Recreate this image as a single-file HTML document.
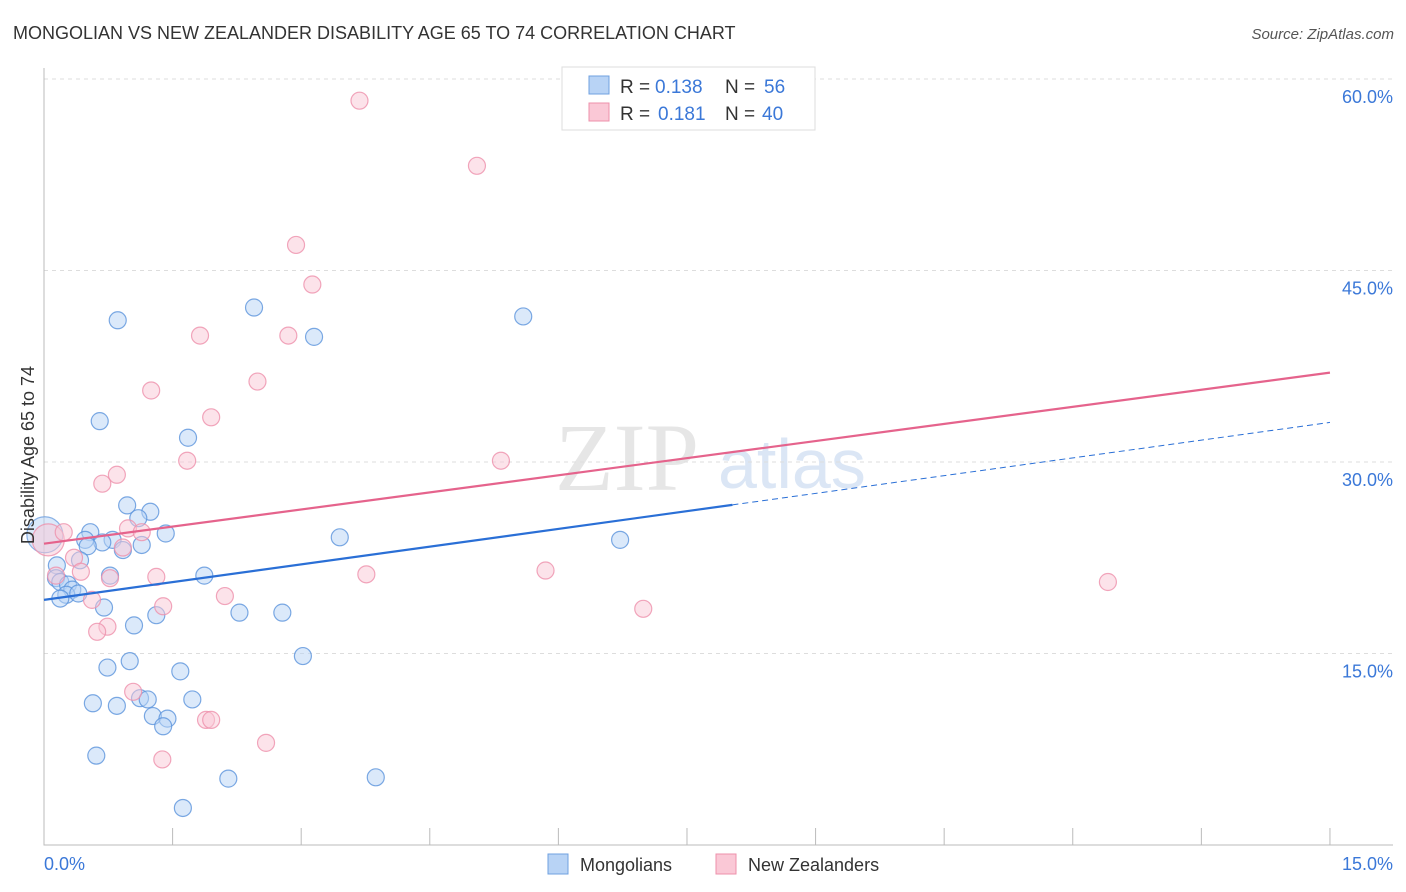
<!DOCTYPE html>
<html><head><meta charset="utf-8"><style>
body{margin:0;background:#fff;font-family:"Liberation Sans",sans-serif}
svg{display:block}
</style></head><body>
<svg id="chart" width="1406" height="892">
<text x="13" y="39" font-size="18" fill="#333">MONGOLIAN VS NEW ZEALANDER DISABILITY AGE 65 TO 74 CORRELATION CHART</text>
<text x="1394" y="39" font-size="15" fill="#555" font-style="italic" text-anchor="end">Source: ZipAtlas.com</text>
<g><text x="555" y="490" font-family="Liberation Serif" font-size="96" fill="#e6e6e6">ZIP</text><text x="718" y="488" font-size="70" fill="#dbe6f5">atlas</text></g>
<g id="grid"></g><g id="axes"></g><g id="marks"></g>
<text transform="translate(34,455) rotate(-90)" font-size="18" fill="#333" text-anchor="middle">Disability Age 65 to 74</text>
<text x="44" y="870" font-size="18" fill="#3b78d8">0.0%</text>
<text x="1393" y="870" font-size="18" fill="#3b78d8" text-anchor="end">15.0%</text>
<g>
<rect x="562" y="67" width="253" height="63" fill="#fff" stroke="#ddd"/>
<rect x="589" y="76" width="20" height="18" fill="#b8d3f5" stroke="#6fa0e0"/>
<text y="93" font-size="19" fill="#333"><tspan x="620">R =</tspan><tspan x="655" fill="#3b78d8">0.138</tspan><tspan x="725">N =</tspan><tspan x="764" fill="#3b78d8">56</tspan></text>
<rect x="589" y="103" width="20" height="18" fill="#fac8d6" stroke="#ee90ab"/>
<text y="120" font-size="19" fill="#333"><tspan x="620">R =</tspan><tspan x="658" fill="#3b78d8">0.181</tspan><tspan x="725">N =</tspan><tspan x="762" fill="#3b78d8">40</tspan></text>
</g>
<g><rect x="548" y="854" width="20" height="20" fill="#b8d3f5" stroke="#6fa0e0"/><text x="580" y="871" font-size="18" fill="#333">Mongolians</text></g>
<g><rect x="716" y="854" width="20" height="20" fill="#fac8d6" stroke="#ee90ab"/><text x="748" y="871" font-size="18" fill="#333">New Zealanders</text></g>
</svg>
<script>
const yTicks=[15,30,45,60];
const xTicks=[0,1.5,3,4.5,6,7.5,9,10.5,12,13.5,15];
const blueX=[0.86,2.45,3.15,5.59,0.65,1.68,0.97,1.24,1.10,0.54,1.42,0.48,0.80,0.68,0.51,1.14,0.92,3.45,6.72,0.15,0.42,0.77,1.87,0.14,0.19,0.28,0.33,0.26,0.19,0.40,0.70,1.31,2.28,2.78,1.05,3.02,1.00,0.74,1.59,0.57,0.85,1.12,1.21,1.73,1.27,1.44,1.39,0.61,2.15,3.87,1.62];
const blueY=[41.1,42.1,39.8,41.4,33.2,31.9,26.6,26.1,25.6,24.5,24.4,23.9,23.9,23.7,23.4,23.5,23.1,24.1,23.9,21.9,22.3,21.1,21.1,20.9,20.6,20.4,20.0,19.6,19.3,19.7,18.6,18.0,18.2,18.2,17.2,14.8,14.4,13.9,13.6,11.1,10.9,11.5,11.4,11.4,10.1,9.9,9.3,7.0,5.2,5.3,2.9];
const pinkX=[3.68,5.05,2.94,3.13,1.82,2.85,2.49,1.25,1.95,1.67,5.33,0.85,0.68,0.98,1.14,0.23,0.92,0.35,0.43,0.77,1.31,3.76,5.85,12.41,0.14,0.56,1.39,2.11,6.99,0.74,0.62,1.04,1.89,1.95,2.59,1.38];
const pinkY=[58.3,53.2,47.0,43.9,39.9,39.9,36.3,35.6,33.5,30.1,30.1,29.0,28.3,24.8,24.5,24.5,23.3,22.5,21.4,20.9,21.0,21.2,21.5,20.6,21.1,19.2,18.7,19.5,18.5,17.1,16.7,12.0,9.8,9.8,8.0,6.7];
const bigBlue=[0.01,24.3], bigPink=[0.05,23.9];
const blueTrend=[19.2,33.1], pinkTrend=[23.6,37.0];
const blueSolidEnd=8.03;
const X=v=>44+v*85.73, Y=v=>845-v*12.767;
const NS='http://www.w3.org/2000/svg';
function mk(p,t,a){const e=document.createElementNS(NS,t);for(const k in a)e.setAttribute(k,a[k]);document.getElementById(p).appendChild(e);return e;}
yTicks.forEach(t=>{
 const g=mk('grid','line',{x1:44,x2:1393,y1:Y(t),y2:Y(t),stroke:'#ddd','stroke-dasharray':'4,4'});
 
 
 const l=mk('grid','text',{x:1393,y:Y(t)+24,'font-size':18,fill:'#3b78d8','text-anchor':'end'});l.textContent=t.toFixed(1)+'%';
 
 
});
const ax=mk('axes','path',{d:`M44 68V845H1393`,stroke:'#bbb',fill:'none'});


xTicks.forEach(t=>{const l=mk('axes','line',{x1:X(t),x2:X(t),y1:828,y2:845,stroke:'#bbb'});
 
 });
function dot(x,y,r,c,s,n){const e=mk('marks','circle',{cx:X(x),cy:Y(y),r:r,fill:c,'fill-opacity':0.5,stroke:s,'stroke-width':1.2,'stroke-opacity':0.8});
 
 }
dot(bigBlue[0],bigBlue[1],18,'#b8d3f5','#6fa0e0','mongolian-point');
dot(bigPink[0],bigPink[1],16,'#fac8d6','#ee90ab','new-zealander-point');
blueX.forEach((x,i)=>dot(x,blueY[i],8.5,'#b8d3f5','#5b93dc','mongolian-point'));
pinkX.forEach((x,i)=>dot(x,pinkY[i],8.5,'#fac8d6','#ee90ab','new-zealander-point'));
const by=x=>blueTrend[0]+(blueTrend[1]-blueTrend[0])*x/15;
let t=mk('marks','line',{x1:X(0),y1:Y(by(0)),x2:X(blueSolidEnd),y2:Y(by(blueSolidEnd)),stroke:'#2a6fd6','stroke-width':2.2});


t=mk('marks','line',{x1:X(blueSolidEnd),y1:Y(by(blueSolidEnd)),x2:X(15),y2:Y(by(15)),stroke:'#2a6fd6','stroke-width':1,'stroke-dasharray':'6,4'});


t=mk('marks','line',{x1:X(0),y1:Y(pinkTrend[0]),x2:X(15),y2:Y(pinkTrend[1]),stroke:'#e5638c','stroke-width':2.2});


</script>
</body></html>
